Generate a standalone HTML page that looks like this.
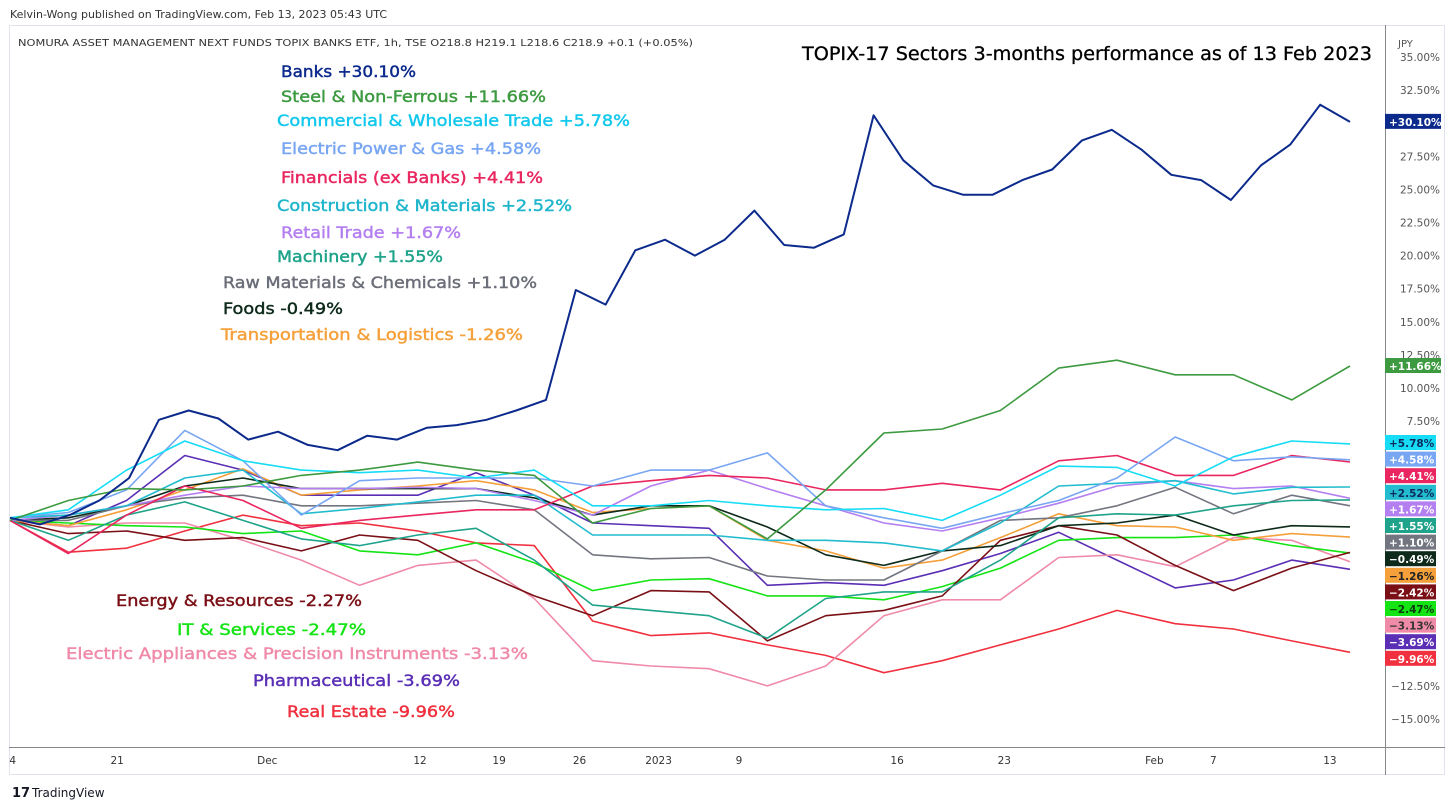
<!DOCTYPE html>
<html><head><meta charset="utf-8"><style>
html,body{margin:0;padding:0;background:#fff;}
svg{display:block;font-family:"DejaVu Sans","Liberation Sans",sans-serif;}
</style></head><body>
<svg id="c" width="1456" height="809" viewBox="0 0 1456 809">
<text x="10" y="18" font-size="11" fill="#333">Kelvin-Wong published on TradingView.com, Feb 13, 2023 05:43 UTC</text>
<rect x="9.5" y="25.5" width="1435" height="749" fill="none" stroke="#e0e3eb"/>
<line x1="1385.5" y1="25" x2="1385.5" y2="775" stroke="#888"/>
<line x1="9" y1="747.5" x2="1445" y2="747.5" stroke="#888"/>
<text x="18" y="46" font-size="10" fill="#333" textLength="675" lengthAdjust="spacingAndGlyphs">NOMURA ASSET MANAGEMENT NEXT FUNDS TOPIX BANKS ETF, 1h, TSE  O218.8  H219.1  L218.6  C218.9  +0.1 (+0.05%)</text>
<text x="802" y="60" font-size="19" fill="#000" stroke="#000" stroke-width="0.3" textLength="570" lengthAdjust="spacingAndGlyphs">TOPIX-17 Sectors 3-months performance as of 13 Feb 2023</text>
<text x="1398" y="47" font-size="10" fill="#555">JPY</text>
<g id="yticks"></g><g id="xticks"></g><g id="lines"></g><g id="annot"></g><g id="badges"></g>
<text x="12" y="797" font-size="13" font-weight="bold" fill="#131722">17</text>
<text x="32" y="797" font-size="12" fill="#131722">TradingView</text>
</svg>
<script>
const NS="http://www.w3.org/2000/svg";
const yTickValues=[35,32.5,27.5,25,22.5,20,17.5,15,12.5,10,7.5,-12.5,-15];
const xTickLabels=["4","21","Dec","12","19","26","2023","9","16","23","Feb","7","13"];
const xTickPos=[0.2,8.0,19.2,30.6,36.5,42.5,48.4,54.4,66.2,74.2,85.4,89.8,98.5];
const sectorNames=["Banks","Steel & Non-Ferrous","Commercial & Wholesale Trade","Electric Power & Gas","Financials (ex Banks)","Construction & Materials","Retail Trade","Machinery","Raw Materials & Chemicals","Foods","Transportation & Logistics","Energy & Resources","IT & Services","Electric Appliances & Precision Instruments","Pharmaceutical","Real Estate"];
const finalValues=[30.10,11.66,5.78,4.58,4.41,2.52,1.67,1.55,1.10,-0.49,-1.26,-2.42,-2.47,-3.13,-3.69,-9.96];
const annotationValues=[30.10,11.66,5.78,4.58,4.41,2.52,1.67,1.55,1.10,-0.49,-1.26,-2.27,-2.47,-3.13,-3.69,-9.96];
const banks=[0.2,-0.3,0.4,1.5,3.2,7.6,8.3,7.7,6.1,6.7,5.7,5.3,6.4,6.1,7.0,7.2,7.6,8.3,9.1,17.4,16.3,20.4,21.2,20.0,21.2,23.4,20.8,20.6,21.6,30.6,27.2,25.3,24.6,24.6,25.7,26.5,28.7,29.5,28.0,26.1,25.7,24.2,26.8,28.4,31.4,30.1];
const steel=[0,1.5,2.4,2.3,2.6,3.4,3.8,4.4,3.8,3.4,-0.2,0.9,1.1,-1.4,2.3,6.6,6.9,8.3,11.5,12.1,11.0,11.0,9.1,11.66];
const commercial=[0.2,0.8,3.8,6.0,4.5,3.8,3.6,3.8,3.2,3.8,1.1,1.1,1.5,1.1,0.8,0.9,0,1.9,4.1,4.0,2.6,4.8,6.0,5.78];
const electricPower=[0.2,0.6,2.3,6.8,4.5,0.4,3.0,3.2,3.2,3.2,2.6,3.8,3.8,5.1,1.1,0.2,-0.6,0.5,1.5,3.2,6.3,4.5,4.8,4.58];
const financials=[0,-2.5,0.4,2.6,1.5,-0.6,0,0.4,0.8,0.8,2.6,3.0,3.4,3.2,2.3,2.3,2.8,2.3,4.5,4.9,3.4,3.4,4.9,4.41];
const construction=[0.2,0.4,1.1,3.2,3.8,0.5,0.9,1.4,1.9,1.9,-1.1,-1.1,-1.1,-1.5,-1.5,-1.7,-2.3,-0.2,2.6,2.8,3.0,2.0,2.5,2.52];
const retail=[0,0.4,1.1,1.9,2.6,2.4,2.4,2.5,2.4,1.5,0.4,2.6,3.8,2.4,1.1,-0.2,-0.8,0.2,1.3,2.6,3.0,2.4,2.6,1.67];
const machinery=[0,-1.5,0.4,1.4,0,-1.4,-1.9,-1.1,-0.6,-3.0,-6.4,-6.8,-7.2,-8.9,-5.9,-5.4,-5.4,-3.0,0.2,0.5,0.4,1.1,1.5,1.55];
const rawMaterials=[0,0,1.1,1.7,1.9,1.1,1.1,1.3,1.5,0.8,-2.6,-2.9,-2.8,-4.2,-4.5,-4.5,-2.3,0,0.2,1.1,2.5,0.5,1.9,1.10];
const foods=[0,0.2,1.1,2.6,3.2,2.4,2.4,2.4,2.4,1.7,0.4,1.1,1.1,-0.5,-2.6,-3.4,-2.3,-1.9,-0.4,-0.2,0.4,-1.1,-0.4,-0.49];
const transport=[0,-0.4,0.8,2.3,3.9,1.9,2.3,2.6,3.0,2.3,0.6,0.9,1.1,-1.5,-2.3,-3.6,-3.0,-1.3,0.5,-0.4,-0.5,-1.5,-1.0,-1.26];
const energy=[0,-1.0,-0.8,-1.5,-1.3,-2.3,-1.1,-1.5,-3.8,-5.7,-7.2,-5.3,-5.4,-9.1,-7.2,-6.8,-5.7,-1.5,-0.4,-1.1,-3.4,-5.3,-3.6,-2.42];
const itServices=[0,-0.2,-0.4,-0.5,-1.0,-0.8,-2.3,-2.6,-1.7,-3.2,-5.3,-4.5,-4.4,-5.7,-5.7,-6.0,-5.0,-3.6,-1.5,-1.3,-1.3,-1.1,-1.9,-2.47];
const appliances=[0,-0.5,-0.2,-0.2,-1.5,-3.0,-4.9,-3.4,-3.0,-5.9,-10.6,-11.0,-11.2,-12.5,-11.0,-7.2,-6.0,-6.0,-2.8,-2.6,-3.5,-1.3,-1.5,-3.13];
const pharma=[0,-0.4,1.5,4.9,3.8,1.9,1.9,1.9,3.6,1.9,-0.2,-0.4,-0.6,-4.9,-4.7,-4.9,-3.8,-2.5,-0.9,-3.0,-5.1,-4.5,-3.0,-3.69];
const realEstate=[0,-2.4,-2.1,-0.8,0.4,-0.4,-0.2,-0.8,-1.7,-1.9,-7.6,-8.7,-8.5,-9.4,-10.2,-11.5,-10.6,-9.4,-8.2,-6.8,-7.8,-8.2,-9.1,-9.96];

const seriesData=[banks,steel,commercial,electricPower,financials,construction,retail,machinery,rawMaterials,foods,transport,energy,itServices,appliances,pharma,realEstate];
const colors=["#0c2a8c","#3d9a40","#16dcf5","#78a6f2","#e9265f","#23bccf","#b47ff0","#1fa38a","#737680","#0d2a1a","#f5a03a","#7a1016","#14e414","#ef8aa8","#5a2fb5","#f0303e"];
const labelColors=["#0c2a8c","#3d9a40","#12c8ec","#78a6f2","#e9265f","#1fb5cc","#b47ff0","#1fa38a","#6b6e78","#0d2a1a","#f5a03a","#7a1016","#14e414","#ef8aa8","#5a2fb5","#f0303e"];
const badgeText=["#fff","#fff","#0c2a5c","#fff","#fff","#0c2a5c","#fff","#fff","#fff","#fff","#222","#fff","#0c3a0c","#333","#fff","#fff"];
const labelPos=[[281,77],[281,102],[277,126],[281,154],[281,183],[277,211],[281,238],[277,262],[223,288],[223,314],[221,340],[116,606],[177,635],[66,659],[253,686],[287,717]];
const labelW=[135,265,353,260,262,295,180,166,314,120,302,246,189,462,207,168];

function yScale(v){return 57+(35-v)*(719-57)/50;}
function xScale(i,n){return 10+i*1340/(n-1);}
function xPct(p){return 10+p*1340/100;}

const yt=document.getElementById('yticks');
yTickValues.forEach(v=>{
 const t=document.createElementNS(NS,'text');
 t.setAttribute('x',1440);t.setAttribute('y',yScale(v)+4);
 t.setAttribute('text-anchor','end');t.setAttribute('font-size','10.5');t.setAttribute('fill','#555');
 t.textContent=(v<0?'\u2212'+Math.abs(v).toFixed(2):v.toFixed(2))+'%';
 
 
 yt.appendChild(t);
});
const xt=document.getElementById('xticks');
xTickLabels.forEach((s,i)=>{
 const t=document.createElementNS(NS,'text');
 t.setAttribute('x',xPct(xTickPos[i]));t.setAttribute('y',764);
 t.setAttribute('text-anchor','middle');t.setAttribute('font-size','10.5');t.setAttribute('fill','#333');
 t.textContent=s;
 
 
 xt.appendChild(t);
});
const lg=document.getElementById('lines');
for(let k=seriesData.length-1;k>=0;k--){
 const d=seriesData[k];const n=d.length;
 const pts=d.map((v,i)=>xScale(i,n).toFixed(1)+','+yScale(v).toFixed(1)).join(' ');
 const p=document.createElementNS(NS,'polyline');
 p.setAttribute('points',pts);p.setAttribute('fill','none');
 p.setAttribute('stroke',colors[k]);p.setAttribute('stroke-width',k===0?2:1.6);
 p.setAttribute('stroke-linejoin','round');
 
 
 lg.appendChild(p);
}
const an=document.getElementById('annot');
sectorNames.forEach((s,i)=>{
 const t=document.createElementNS(NS,'text');
 t.setAttribute('x',labelPos[i][0]);t.setAttribute('y',labelPos[i][1]);
 t.setAttribute('font-size','16');t.setAttribute('fill',labelColors[i]);
 t.setAttribute('stroke',labelColors[i]);t.setAttribute('stroke-width','0.45');
 t.setAttribute('textLength',labelW[i]);t.setAttribute('lengthAdjust','spacingAndGlyphs');
 const v=annotationValues[i];
 t.textContent=s+' '+(v>=0?'+':'-')+Math.abs(v).toFixed(2)+'%';
 
 
 an.appendChild(t);
});
const bg=document.getElementById('badges');
let stackY=443;
finalValues.forEach((v,i)=>{
 let cy;
 if(i<2){cy=yScale(v);}else{cy=stackY;stackY+=16.6;}
 const r=document.createElementNS(NS,'rect');
 r.setAttribute('x',1385);r.setAttribute('y',cy-8);r.setAttribute('width',i<2?56:51);r.setAttribute('height',15);
 r.setAttribute('fill',colors[i]);
 
 
 bg.appendChild(r);
 const t=document.createElementNS(NS,'text');
 t.setAttribute('x',1389);t.setAttribute('y',cy+4);
 t.setAttribute('font-size','10.5');t.setAttribute('font-weight','bold');t.setAttribute('fill',badgeText[i]);
 t.textContent=(v>=0?'+':'\u2212')+Math.abs(v).toFixed(2)+'%';
 
 
 bg.appendChild(t);
});
</script>
</body></html>
